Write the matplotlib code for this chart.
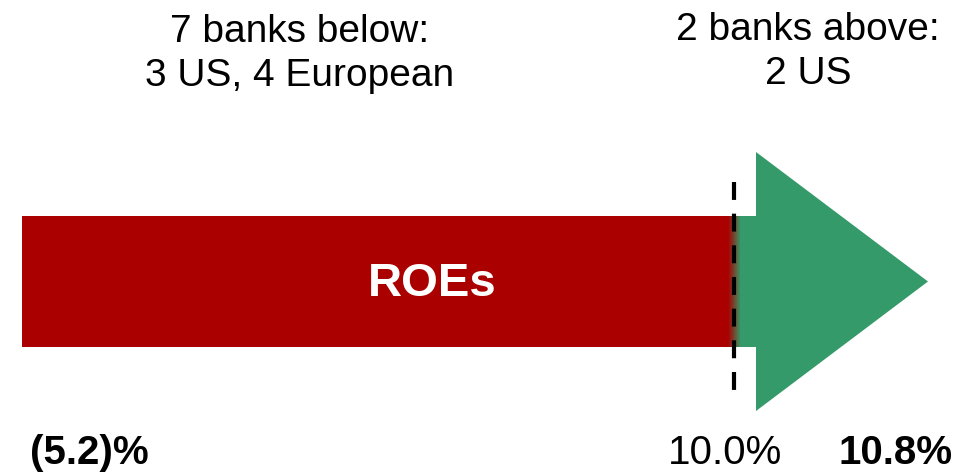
import numpy as np
import matplotlib.pyplot as plt
from matplotlib.patches import Polygon, Rectangle
from matplotlib.colors import LinearSegmentedColormap

plt.rcParams['font.family'] = ['Liberation Sans', 'DejaVu Sans']

# data
roe_low = -5.2
threshold = 10.0
roe_high = 10.8
below_note = "7 banks below:\n3 US, 4 European"
above_note = "2 banks above:\n2 US"
bar_label = "ROEs"

red = '#aa0000'
green = '#359a69'

fig = plt.figure(figsize=(9.78, 4.72), dpi=100)
ax = fig.add_axes([0, 0, 1, 1])
ax.set_xlim(0, 978)
ax.set_ylim(472, 0)
ax.axis('off')

# layout (pixels)
x0, x_cut, x_head, x_tip = 22, 734, 756, 928
y_top, y_bot = 216, 347
y_htop, y_hbot = 152, 411
y_mid = (y_top + y_bot) / 2

# red body
ax.add_patch(Rectangle((x0, y_top), x_cut - 6 - x0, y_bot - y_top, color=red, lw=0))
# green head
ax.add_patch(Polygon([(x_cut + 6, y_top), (x_head, y_top), (x_head, y_htop), (x_tip, y_mid),
                      (x_head, y_hbot), (x_head, y_bot), (x_cut + 6, y_bot)],
                     closed=True, color=green, lw=0))
# soft blend between them
cmap = LinearSegmentedColormap.from_list('rg', [red, green])
grad = np.linspace(0, 1, 50).reshape(1, -1)
ax.imshow(grad, cmap=cmap, extent=(x_cut - 6.5, x_cut + 6.5, y_bot, y_top), aspect='auto')

# threshold line
ax.plot([x_cut, x_cut], [182, 398], color='black', lw=3, dashes=(4.3, 3.3))

ax.text(432, y_mid + 2, bar_label, color='white', fontsize=34,
        fontweight='bold', ha='center', va='center')

ax.text(300, 54, below_note, fontsize=28, ha='center', va='center', linespacing=1.3)
ax.text(808, 52, above_note, fontsize=28, ha='center', va='center', linespacing=1.3)

ax.text(89, 453, f"({abs(roe_low):.1f})%", fontsize=29, fontweight='bold', ha='center', va='center')
ax.text(725, 453, f"{threshold:.1f}%", fontsize=29, ha='center', va='center')
ax.text(896, 453, f"{roe_high:.1f}%", fontsize=29, fontweight='bold', ha='center', va='center')

fig.savefig('out.png', dpi=100)
